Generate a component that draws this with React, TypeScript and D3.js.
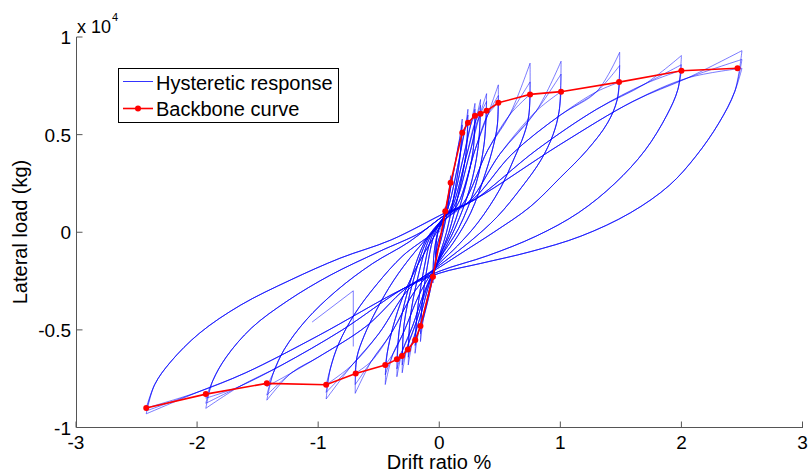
import React from "react";
import * as d3 from "d3";

type Pt = [number, number];

// Axis ticks
const xTicks = [-3, -2, -1, 0, 1, 2, 3];
const yTicks = [-1, -0.5, 0, 0.5, 1];
const yTickLabels = ["-1", "-0.5", "0", "0.5", "1"];

// Backbone curve (drift %, load x10^4 kg)
const backboneX = [-2.42, -1.928, -1.424, -0.934, -0.69, -0.446, -0.35, -0.308, -0.259, -0.198, -0.155, -0.052, 0.05, 0.094, 0.19, 0.237, 0.295, 0.341, 0.391, 0.488, 0.75, 1.006, 1.485, 2.0, 2.463];
const backboneY = [-0.9, -0.829, -0.774, -0.781, -0.723, -0.68, -0.651, -0.634, -0.6, -0.552, -0.48, -0.228, 0.107, 0.254, 0.51, 0.561, 0.597, 0.607, 0.622, 0.663, 0.706, 0.72, 0.769, 0.827, 0.84];

// Hysteretic response: one entry per amplitude level (3 cycles each)
const posPeakX = [0.05, 0.094, 0.19, 0.237, 0.295, 0.341, 0.391, 0.488, 0.75, 1.006, 1.49, 2.0, 2.5];
const posPeakY = [
  [0.13, 0.12, 0.11], [0.29, 0.27, 0.254], [0.58, 0.55, 0.51], [0.63, 0.6, 0.561],
  [0.66, 0.63, 0.597], [0.68, 0.65, 0.607], [0.71, 0.67, 0.622], [0.755, 0.7, 0.663],
  [0.866, 0.77, 0.706], [0.876, 0.81, 0.72], [0.922, 0.854, 0.769], [0.905, 0.858, 0.83],
  [0.93, 0.885, 0.84],
];
const negPeakX = [-0.03, -0.052, -0.155, -0.2, -0.256, -0.306, -0.35, -0.446, -0.694, -0.934, -1.424, -1.928, -2.42];
const negPeakY = [
  [-0.13, -0.12, -0.11], [-0.26, -0.245, -0.229], [-0.56, -0.52, -0.48], [-0.62, -0.58, -0.55],
  [-0.68, -0.64, -0.6], [-0.72, -0.68, -0.634], [-0.74, -0.7, -0.651], [-0.78, -0.73, -0.68],
  [-0.825, -0.78, -0.723], [-0.854, -0.82, -0.781], [-0.86, -0.834, -0.79], [-0.902, -0.876, -0.85],
  [-0.93, -0.915, -0.9],
];
const posLoadPts: Pt[][] = [
  [[0.02, 0.04]],
  [[0.03, 0.06], [0.07, 0.17]],
  [[0.05, 0.1], [0.11, 0.28], [0.16, 0.45]],
  [[0.07, 0.12], [0.15, 0.33], [0.21, 0.52]],
  [[0.09, 0.12], [0.19, 0.36], [0.26, 0.55]],
  [[0.1, 0.12], [0.22, 0.38], [0.3, 0.57]],
  [[0.12, 0.13], [0.25, 0.4], [0.33, 0.59]],
  [[0.15, 0.14], [0.3, 0.43], [0.4, 0.6]],
  [[0.2, 0.15], [0.4, 0.42], [0.58, 0.6]],
  [[0.25, 0.16], [0.5, 0.4], [0.8, 0.62]],
  [[0.28, 0.17], [0.6, 0.4], [1.0, 0.6], [1.3, 0.72]],
  [[0.3, 0.17], [0.8, 0.42], [1.3, 0.63], [1.7, 0.76]],
  [[0.3, 0.17], [1.0, 0.45], [1.6, 0.67], [2.05, 0.79]],
];
const posUnloadPts: Pt[][] = [
  [[0.03, 0.02], [0, -0.03]],
  [[0.07, 0.12], [0.03, 0.0], [0, -0.07]],
  [[0.17, 0.38], [0.12, 0.18], [0.06, 0.0], [0, -0.12]],
  [[0.22, 0.4], [0.16, 0.2], [0.08, 0.0], [0, -0.13]],
  [[0.28, 0.42], [0.21, 0.22], [0.11, 0.02], [0, -0.13]],
  [[0.32, 0.43], [0.25, 0.22], [0.13, 0.02], [0, -0.14]],
  [[0.37, 0.45], [0.3, 0.24], [0.16, 0.02], [0, -0.14]],
  [[0.48, 0.55], [0.45, 0.45], [0.38, 0.3], [0.26, 0.1], [0.12, -0.05], [0, -0.15]],
  [[0.74, 0.6], [0.7, 0.5], [0.62, 0.38], [0.5, 0.22], [0.32, 0.05], [0.15, -0.07], [0, -0.16]],
  [[0.99, 0.62], [0.94, 0.5], [0.84, 0.37], [0.68, 0.23], [0.48, 0.08], [0.25, -0.05], [0, -0.17]],
  [[1.47, 0.68], [1.39, 0.56], [1.22, 0.42], [1.0, 0.28], [0.75, 0.13], [0.45, 0.0], [0.2, -0.1], [0, -0.18]],
  [[1.97, 0.73], [1.88, 0.6], [1.7, 0.42], [1.45, 0.25], [1.15, 0.1], [0.8, -0.02], [0.4, -0.12], [0, -0.2]],
  [[2.44, 0.72], [2.31, 0.56], [2.12, 0.39], [1.9, 0.24], [1.58, 0.1], [1.17, -0.02], [0.75, -0.1], [0.34, -0.16], [0, -0.21]],
];
const negLoadPts: Pt[][] = [
  [[-0.01, -0.05]],
  [[-0.02, -0.1], [-0.04, -0.18]],
  [[-0.04, -0.2], [-0.09, -0.34], [-0.13, -0.44]],
  [[-0.06, -0.24], [-0.12, -0.4], [-0.17, -0.51]],
  [[-0.08, -0.26], [-0.16, -0.44], [-0.22, -0.56]],
  [[-0.1, -0.28], [-0.19, -0.46], [-0.26, -0.58]],
  [[-0.12, -0.3], [-0.22, -0.48], [-0.3, -0.6]],
  [[-0.15, -0.3], [-0.3, -0.52], [-0.38, -0.62]],
  [[-0.2, -0.3], [-0.4, -0.52], [-0.56, -0.66]],
  [[-0.25, -0.29], [-0.5, -0.52], [-0.72, -0.68]],
  [[-0.28, -0.29], [-0.6, -0.48], [-1.0, -0.64], [-1.22, -0.72]],
  [[-0.3, -0.29], [-0.8, -0.5], [-1.3, -0.68], [-1.65, -0.79]],
  [[-0.3, -0.29], [-1.0, -0.53], [-1.6, -0.72], [-2.0, -0.82]],
];
const negUnloadPts: Pt[][] = [
  [[-0.02, -0.03], [0, 0.02]],
  [[-0.045, -0.12], [-0.02, -0.02], [0.01, 0.04]],
  [[-0.14, -0.36], [-0.1, -0.18], [-0.04, -0.01], [0.02, 0.06]],
  [[-0.18, -0.4], [-0.13, -0.2], [-0.06, -0.02], [0.02, 0.06]],
  [[-0.24, -0.44], [-0.18, -0.24], [-0.08, -0.03], [0.03, 0.07]],
  [[-0.29, -0.47], [-0.22, -0.26], [-0.1, -0.04], [0.03, 0.07]],
  [[-0.33, -0.5], [-0.26, -0.3], [-0.12, -0.05], [0.03, 0.07]],
  [[-0.43, -0.62], [-0.38, -0.48], [-0.3, -0.33], [-0.18, -0.17], [-0.05, -0.03], [0.04, 0.06]],
  [[-0.68, -0.64], [-0.62, -0.53], [-0.52, -0.4], [-0.38, -0.25], [-0.2, -0.1], [0.04, 0.06]],
  [[-0.9, -0.7], [-0.83, -0.57], [-0.7, -0.42], [-0.52, -0.27], [-0.3, -0.12], [-0.05, 0.0], [0.05, 0.08]],
  [[-1.37, -0.72], [-1.28, -0.6], [-1.1, -0.45], [-0.85, -0.3], [-0.55, -0.16], [-0.25, -0.05], [0.05, 0.09]],
  [[-1.87, -0.76], [-1.76, -0.64], [-1.55, -0.49], [-1.25, -0.35], [-0.9, -0.22], [-0.5, -0.1], [-0.15, 0.0], [0.05, 0.09]],
  [[-2.35, -0.78], [-2.22, -0.665], [-1.98, -0.517], [-1.64, -0.373], [-1.23, -0.245], [-0.82, -0.133], [-0.4, -0.04], [0.05, 0.1]],
];
// a short spike in the recorded response
const glitchPts: Pt[] = [[-1.05, -0.46], [-0.71, -0.3], [-0.71, -0.585]];

const W = 809;
const H = 472;
const x = d3.scaleLinear().domain([-3, 3]).range([76, 802.5]);
const y = d3.scaleLinear().domain([-1, 1]).range([427.5, 37]);

function buildArcs(): Pt[][] {
  const arcs: Pt[][] = [];
  let tail: Pt[] = [[0, 0]];
  posPeakX.forEach((xp, i) => {
    for (let k = 0; k < 3; k++) {
      const P: Pt = [xp, posPeakY[i][k]];
      const N: Pt = [negPeakX[i], negPeakY[i][k]];
      arcs.push([...tail, ...posLoadPts[i], P]);
      arcs.push([P, ...posUnloadPts[i], ...negLoadPts[i], N]);
      tail = [N, ...negUnloadPts[i]];
    }
  });
  arcs.push(tail);
  return arcs;
}

export default function App() {
  const arcs = buildArcs();
  const curve = d3
    .line<Pt>()
    .x((d) => x(d[0]))
    .y((d) => y(d[1]))
    .curve(d3.curveCatmullRom.alpha(0.5));
  const lin = d3
    .line<Pt>()
    .x((d) => x(d[0]))
    .y((d) => y(d[1]));
  const backbone: Pt[] = backboneX.map((v, i) => [v, backboneY[i]]);
  const font = "'Liberation Sans', Arial, Helvetica, sans-serif";
  const axisColor = "#555";
  const x0 = 76.5;
  const yb = 427.5;

  return (
    <svg
      width={W}
      height={H}
      style={{ position: "absolute", left: 0, top: 0, background: "#fff" }}
      fontFamily={font}
    >
      <rect x={0} y={0} width={W} height={H} fill="#fff" />
      {/* hysteretic response */}
      <g fill="none" stroke="#0000ff" strokeWidth={0.65} strokeOpacity={0.8}>
        {arcs.map((a, i) => (
          <path key={i} d={curve(a) || ""} />
        ))}
        <path d={lin(glitchPts) || ""} />
      </g>
      {/* backbone */}
      <path d={lin(backbone) || ""} fill="none" stroke="#ff0000" strokeWidth={1.6} />
      {backbone.map((d, i) => (
        <circle key={i} cx={x(d[0])} cy={y(d[1])} r={3} fill="#ff0000" />
      ))}

      {/* axes */}
      <line x1={x0} x2={x0} y1={37} y2={yb} stroke={axisColor} strokeWidth={1} />
      <line x1={x0} x2={803} y1={yb} y2={yb} stroke={axisColor} strokeWidth={1} />
      {xTicks.map((t) => (
        <g key={"xt" + t}>
          <line x1={x(t)} x2={x(t)} y1={yb} y2={yb - 6} stroke={axisColor} strokeWidth={1} />
          <text x={x(t)} y={449} textAnchor="middle" fontSize={19} fill="#000">
            {String(t)}
          </text>
        </g>
      ))}
      {yTicks.map((t, i) => (
        <g key={"yt" + t}>
          <line x1={x0} x2={x0 + 6} y1={y(t)} y2={y(t)} stroke={axisColor} strokeWidth={1} />
          <text x={71} y={y(t) + 7} textAnchor="end" fontSize={19} fill="#000">
            {yTickLabels[i]}
          </text>
        </g>
      ))}
      {/* exponent */}
      <text x={77} y={33} fontSize={18} fill="#000">
        x 10
      </text>
      <text x={112} y={21} fontSize={11} fill="#000">
        4
      </text>
      {/* axis labels */}
      <text x={439} y={469} textAnchor="middle" fontSize={20} fill="#000">
        Drift ratio %
      </text>
      <text
        transform={`translate(27,232) rotate(-90)`}
        textAnchor="middle"
        fontSize={20}
        fill="#000"
      >
        Lateral load (kg)
      </text>

      {/* legend */}
      <rect x={118.5} y={68.5} width={220} height={54} fill="#fff" stroke="#000" strokeWidth={1} />
      <line x1={123} x2={153} y1={81.5} y2={81.5} stroke="#0000ff" strokeWidth={0.8} />
      <text x={156} y={90} fontSize={20} fill="#000">
        Hysteretic response
      </text>
      <line x1={123} x2={153} y1={108.5} y2={108.5} stroke="#ff0000" strokeWidth={1.6} />
      <circle cx={138} cy={108.5} r={3} fill="#ff0000" />
      <text x={156} y={116} fontSize={20} fill="#000">
        Backbone curve
      </text>
    </svg>
  );
}
